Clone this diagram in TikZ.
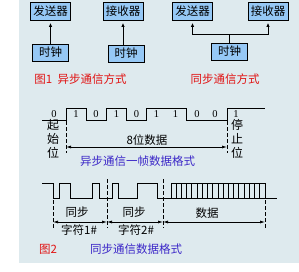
\documentclass[tikz,border=0pt]{standalone}
\usepackage{fontspec}
\setmainfont{Noto Sans CJK SC}
\newfontfamily\digitfont{Liberation Serif}
\usetikzlibrary{positioning,arrows.meta}

\definecolor{panelbg}{RGB}{222,234,238}
\definecolor{boxblue}{RGB}{150,200,245}
\definecolor{capred}{RGB}{225,20,20}
\definecolor{capblue}{RGB}{60,40,200}

\tikzstyle{unit} = [rectangle, minimum width=40pt, minimum height=18pt, inner sep=1pt, text centered, draw=black, line width=0.8pt, fill=boxblue, font=\fontsize{11.5}{13}\selectfont]
\tikzstyle{clock} = [unit, minimum width=36pt, minimum height=17pt]
\tikzstyle{arrow} = [line width=0.8pt, -{Latex[length=4pt,width=3.5pt]}, shorten >=2.5pt]
\tikzstyle{dimline} = [line width=0.7pt, {Latex[length=5pt,width=3pt]}-{Latex[length=5pt,width=3pt]}]
\tikzstyle{guide} = [line width=0.8pt, dash pattern=on 4pt off 2pt]
\tikzstyle{wave} = [line width=1pt, line join=miter]
\tikzstyle{txt} = [inner sep=0pt, font=\fontsize{11.5}{13}\selectfont]
\tikzstyle{bit} = [inner sep=0pt, font=\digitfont\fontsize{10.5}{11}\selectfont]

\begin{document}
\begin{tikzpicture}[x=1pt, y=-1pt, node distance=41.5pt]
			\useasboundingbox (0,0) rectangle (299,271);
			\fill [panelbg] (19,0) rectangle (299,263);
			
			% asynchronous
			\node (send1) [unit] at (50.5,11) {发送器};
			\node (clk1) [clock, below of=send1] {时钟};
			\node (recv1) [unit] at (123,11) {接收器};
			\node (clk1b) [clock] at (126,53.5) {时钟};
			\node (cap1) [txt, text=capred] at (80.5,79) {图1\ \ 异步通信方式};
			
			\draw [arrow] (clk1.north) -- (send1.south);
			\draw [arrow] (clk1b.north -| recv1.south) -- (recv1.south);
			
			% synchronous
			\node (send2) [unit] at (192.5,11) {发送器};
			\node (recv2) [unit] at (268,11) {接收器};
			\node (clk2) [clock] at (229.5,51.5) {时钟};
			\node (cap2) [txt, text=capred] at (225,79) {同步通信方式};
			\coordinate (bus) at (229.5,34);
			
			\draw [line width=0.8pt] (clk2.north) -- (bus);
			\draw [arrow] (bus) -| (send2.south);
			\draw [arrow] (bus) -| (recv2.south);
			
			% one asynchronous frame
			\draw [wave] (42,120) -- (66,120) -- (66,108) -- (86.2,108) -- (86.2,120) -- (106.3,120) -- (106.3,108)
				-- (126.4,108) -- (126.4,120) -- (146.5,120) -- (146.5,108) -- (186.8,108) -- (186.8,120)
				-- (227,120) -- (227,108) -- (265,108);
			\node (b0) [bit] at (54,114.5) {0};
			\node (b1) [bit] at (76,114.5) {1};
			\node (b2) [bit] at (96,114.5) {0};
			\node (b3) [bit] at (116.5,114.5) {1};
			\node (b4) [bit] at (136.5,114.5) {0};
			\node (b5) [bit] at (156.5,114.5) {1};
			\node (b6) [bit] at (175.5,114.5) {1};
			\node (b7) [bit] at (197,114.5) {0};
			\node (b8) [bit] at (215,114.5) {0};
			\node (b9) [bit] at (236,114.5) {1};
			
			\node (startbit) [txt, align=center, font=\fontsize{12}{14}\selectfont] at (53,139) {起\\始\\位};
			\node (stopbit) [txt, align=center, font=\fontsize{12}{14}\selectfont] at (237,139) {停\\止\\位};
			\draw [guide] (66,121) -- (66,153);
			\draw [guide] (227,121) -- (227,153);
			\coordinate (framel) at (66,147);
			\coordinate (framer) at (227,147);
			\draw [dimline] (framel) -- (framer);
			\node (databits) [txt] at (147,140) {8位数据};
			\node (cap3) [txt, text=capblue] at (137.5,161) {异步通信一帧数据格式};
			
			% synchronous characters
			\draw [wave] (42,183) -- (53,183) -- (53,198) -- (59,198) -- (59,183) -- (70,183) -- (70,198)
				-- (92,198) -- (92,183) -- (99,183) -- (99,198) -- (112,198) -- (112,183) -- (118,183)
				-- (118,198) -- (137,198) -- (137,183) -- (157,183) -- (157,198) -- (277,198);
			\draw [wave] (171,198) -- (171,183) -- (265,183) -- (265,198);
			\foreach \k in {1,...,18}
				\draw [line width=0.8pt] (171+\k*5.22,183) -- (171+\k*5.22,198);
			
			\draw [guide] (53,200) -- (53,228);
			\draw [guide] (107,179) -- (107,228);
			\draw [guide] (163,179) -- (163,228);
			\draw [guide] (265,200) -- (265,228);
			\coordinate (c0) at (53,222);
			\coordinate (c1) at (107,222);
			\coordinate (c2) at (163,222);
			\coordinate (c3) at (265,222);
			\draw [dimline] (c0) -- (c1);
			\draw [dimline] (c1) -- (c2);
			\draw [dimline] (c2) -- (c3);
			
			\node (syn1) [txt] at (77,212) {同步};
			\node (syn2) [txt] at (134,212) {同步};
			\node (data) [txt] at (207,213) {数据};
			\node (char1) [txt] at (79,230) {字符1\#};
			\node (char2) [txt] at (136,230) {字符2\#};
			\node (fig2) [txt, text=capred] at (48,249) {图2};
			\node (cap4) [txt, text=capblue] at (136,249) {同步通信数据格式};
			
		\end{tikzpicture}
\end{document}
